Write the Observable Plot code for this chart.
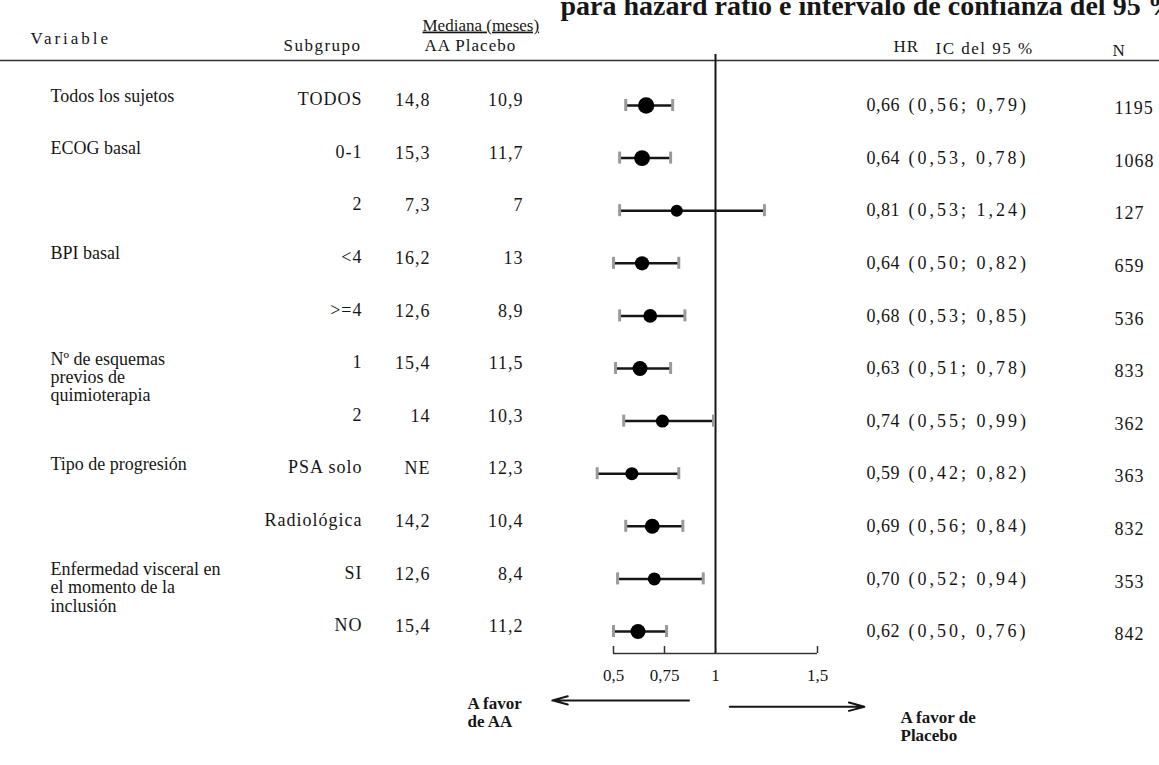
<!DOCTYPE html>
<html><head><meta charset="utf-8">
<script src="https://cdn.jsdelivr.net/npm/d3@7"></script>
<script src="https://cdn.jsdelivr.net/npm/@observablehq/plot@0.6"></script>
<style>
html,body{margin:0;padding:0;background:#fff;}
#chart svg{font-family:"Liberation Serif","Times New Roman",serif;}
.ls05 text{letter-spacing:0.5px;}
.ls1 text{letter-spacing:1px;}
.ls15 text{letter-spacing:1.5px;}
.ls3 text{letter-spacing:3px;}
.ul text{text-decoration:underline;}
</style></head><body><div id="chart"></div>
<script>
// ---- data ----
const variables = ["Todos los sujetos","ECOG basal","","BPI basal","","Nº de esquemas\nprevios de\nquimioterapia","","Tipo de progresión","","Enfermedad visceral en\nel momento de la\ninclusión",""];
const subgroups = ["TODOS","0-1","2","<4",">=4","1","2","PSA solo","Radiológica","SI","NO"];
const medianAA = ["14,8","15,3","7,3","16,2","12,6","15,4","14","NE","14,2","12,6","15,4"];
const medianPlacebo = ["10,9","11,7","7","13","8,9","11,5","10,3","12,3","10,4","8,4","11,2"];
const hr = [0.66,0.64,0.81,0.64,0.68,0.63,0.74,0.59,0.69,0.70,0.62];
const ciLow = [0.56,0.53,0.53,0.50,0.53,0.51,0.55,0.42,0.56,0.52,0.50];
const ciHigh = [0.79,0.78,1.24,0.82,0.85,0.78,0.99,0.82,0.84,0.94,0.76];
const ciSep = [";",",",";",";",";",";",";",";",";",";",","];
const nPatients = [1195,1068,127,659,536,833,362,363,832,353,842];
const xTicks = [0.5,0.75,1,1.5];
const headers = ["Variable","Subgrupo","Mediana (meses)","AA Placebo","HR","IC del 95 %","N"];
const favorLabels = ["A favor\nde AA","A favor de\nPlacebo"];
const favorArrows = [{from:0.87,to:0.2},{from:1.07,to:1.73}];
const titleText = "para hazard ratio e intervalo de confianza del 95 %";

// ---- layout ----
const W = 1159, H = 765;
const mTop = 60, mBottom = 112;
const frameH = H - mTop - mBottom;
const comma = v => String(v).replace(".", ",");
const f2 = v => d3.format(".2f")(v).replace(".", ",");

const rows = hr.map((h, i) => ({
  i, variable: variables[i], subgroup: subgroups[i], aa: medianAA[i], pl: medianPlacebo[i],
  hr: h, lo: ciLow[i], hi: ciHigh[i], n: nPatients[i], nText: String(nPatients[i]),
  hrText: f2(h), ciText: `(${f2(ciLow[i])}${ciSep[i]} ${f2(ciHigh[i])})`
}));
const axisRow = rows.length - 0.58;

const ink = "#161616";
const headerLayout = [
  {x:30, y:31, size:17, cls:"ls3"},
  {x:283, y:38, size:17, cls:"ls15"},
  {x:422, y:18, size:17, cls:"ul"},
  {x:424, y:38, size:17, cls:"ls1"},
  {x:893, y:39, size:17, cls:"ls1"},
  {x:935, y:41, size:17, cls:"ls15"},
  {x:1112, y:43, size:17}
];
const headerMarks = headers.map((t, k) => {
  const L = headerLayout[k];
  return Plot.text([t], {text: d => d, frameAnchor: "top-left", dx: L.x, dy: L.y - mTop,
    textAnchor: "start", fontSize: L.size, fill: ink, className: L.cls});
});

const col = (field, x, anchor, dy, cls) =>
  Plot.text(rows, {y: "i", text: field, frameAnchor: "left", dx: x, dy, textAnchor: anchor,
    fontSize: 18, fill: ink, className: cls});

const plot = Plot.plot({
  width: W, height: H,
  marginLeft: 0, marginRight: 0, marginTop: mTop, marginBottom: mBottom,
  style: {background: "#fff", color: ink, fontFamily: '"Liberation Serif","Times New Roman",serif', overflow: "visible"},
  x: {domain: [0.5, 1.5], range: [613, 817], axis: null},
  y: {domain: [0, rows.length - 1], range: [105, 631], axis: null},
  r: {type: "linear", domain: [100, 1200], range: [6, 8.2]},
  marks: [
    Plot.frame({anchor: "top", stroke: "#333", strokeWidth: 1.5}),
    Plot.ruleX([1], {insetTop: -6, stroke: ink, strokeWidth: 2}),
    Plot.ruleY([axisRow], {x1: xTicks[0], x2: xTicks[xTicks.length - 1], stroke: "#333", strokeWidth: 1.5}),
    Plot.ruleX(xTicks.filter(t => t !== 1), {insetTop: frameH - 7, stroke: "#333", strokeWidth: 1.5}),
    Plot.axisX({ticks: xTicks, tickFormat: comma, tickSize: 0, tickPadding: 15, fontSize: 17, fill: ink}),
    Plot.ruleY(rows, {y: "i", x1: "lo", x2: "hi", stroke: ink, strokeWidth: 2.5}),
    Plot.ruleX(rows, {x: "lo", y1: "i", y2: "i", insetTop: -6, insetBottom: -6, stroke: "#9a9a9a", strokeWidth: 3}),
    Plot.ruleX(rows, {x: "hi", y1: "i", y2: "i", insetTop: -6, insetBottom: -6, stroke: "#9a9a9a", strokeWidth: 3}),
    Plot.dot(rows, {x: "hr", y: "i", r: "n", fill: "#000", stroke: null}),
    Plot.text(rows, {y: "i", text: "variable", frameAnchor: "left", dx: 50, dy: -17, lineAnchor: "top",
      lineHeight: 1.02, textAnchor: "start", fontSize: 18, fill: ink}),
    col("subgroup", 362, "end", -6, "ls1"),
    col("aa", 430, "end", -5, "ls1"),
    col("pl", 523, "end", -5, "ls1"),
    col("hrText", 866, "start", 0, "ls05"),
    col("ciText", 908, "start", 0, "ls3"),
    col("nText", 1114, "start", 3, "ls1"),
    ...headerMarks,
    Plot.arrow(favorArrows, {x1: "from", x2: "to", y1: [rows.length + 0.31, rows.length + 0.43],
      y2: [rows.length + 0.31, rows.length + 0.43], stroke: ink, strokeWidth: 2, headLength: 12, headAngle: 30}),
    Plot.text([favorLabels[0]], {text: d => d, frameAnchor: "bottom-left", dx: 467, dy: 42, lineAnchor: "top",
      lineHeight: 1.1, fontSize: 17, fontWeight: "bold", fill: ink, textAnchor: "start"}),
    Plot.text([favorLabels[1]], {text: d => d, frameAnchor: "bottom-left", dx: 900, dy: 56, lineAnchor: "top",
      lineHeight: 1.1, fontSize: 17, fontWeight: "bold", fill: ink, textAnchor: "start"}),
    Plot.text([titleText], {text: d => d, frameAnchor: "top-left", dx: 560, dy: 14 - mTop, lineAnchor: "bottom",
      fontSize: 28, fontWeight: "bold", fill: ink, textAnchor: "start"})
  ]
});
document.getElementById("chart").appendChild(plot);
</script></body></html>
